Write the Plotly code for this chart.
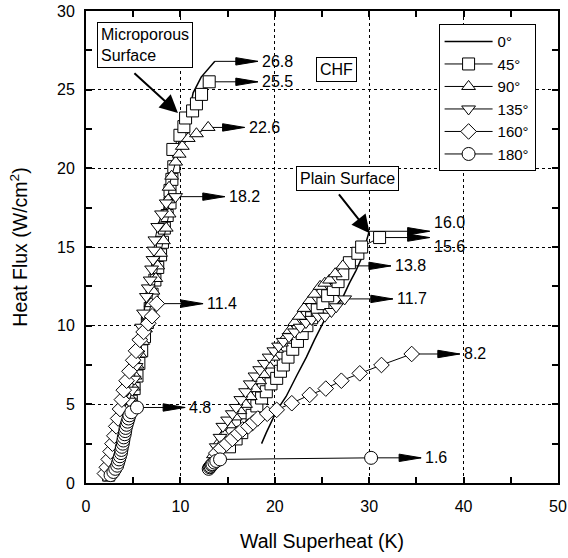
import plotly.graph_objects as go

# ---------------- data ----------------
angle_labels = ["0°", "45°", "90°", "135°", "160°", "180°"]
symbols = [None, "square", "triangle-up", "triangle-down", "diamond", "circle"]
marker_sizes = [0, 12, 12, 12, 12, 13]

# Microporous surface
mp_0_x = [2.3, 2.8, 3.3, 3.8, 4.3, 4.8, 5.3, 5.8, 6.3, 6.8, 7.3, 7.8, 8.3, 8.7, 9.0, 9.4, 9.9, 10.5, 11.0, 11.35, 12.2, 13.65]
mp_0_y = [0.5, 1.3, 2.2, 3.3, 4.4, 5.5, 6.8, 8.2, 9.6, 11.0, 12.6, 14.2, 15.8, 17.4, 19.0, 20.5, 21.8, 22.8, 23.8, 24.8, 25.8, 26.8]

mp_45_x = [2.4, 2.7, 3.0, 3.3, 3.6, 3.9, 4.2, 4.5, 4.8, 5.1, 5.4, 5.6, 5.9, 6.2, 6.5, 6.8, 7.0, 7.3, 7.6, 7.9, 8.1, 8.3, 8.6, 8.9, 8.9, 9.1, 9.3, 9.2, 9.95, 10.37, 10.55, 11.29, 11.7, 12.24, 13.05]
mp_45_y = [0.5, 0.9, 1.4, 2.0, 2.6, 3.2, 3.8, 4.5, 5.2, 6.0, 6.8, 7.6, 8.4, 9.3, 10.2, 11.1, 12.0, 12.9, 13.7, 14.5, 15.3, 16.2, 17.0, 17.8, 18.6, 19.3, 20.1, 21.2, 22.1, 22.65, 23.2, 23.65, 24.1, 24.7, 25.5]

mp_90_x = [2.3, 2.6, 2.9, 3.2, 3.5, 3.8, 4.1, 4.4, 4.7, 5.0, 5.2, 5.4, 5.7, 6.0, 6.3, 6.6, 6.9, 7.1, 7.4, 7.6, 7.9, 8.2, 8.5, 8.8, 8.7, 8.8, 9.07, 9.5, 9.87, 10.2, 10.83, 11.7, 12.94]
mp_90_y = [0.6, 1.0, 1.5, 2.0, 2.6, 3.3, 4.0, 4.7, 5.4, 6.1, 6.8, 7.5, 8.2, 9.0, 9.8, 10.6, 11.4, 12.2, 13.0, 13.8, 14.6, 15.4, 16.2, 17.1, 18.0, 18.8, 19.5, 20.4, 20.9, 21.4, 21.9, 22.2, 22.6]

mp_135_x = [2.2, 2.5, 2.8, 3.1, 3.4, 3.7, 4.0, 4.3, 4.6, 4.9, 5.1, 5.3, 5.5, 5.7, 5.9, 6.1, 6.4, 6.6, 6.8, 6.95, 7.1, 7.2, 7.3, 7.6, 8.0, 8.5, 9.49]
mp_135_y = [0.5, 0.9, 1.4, 1.9, 2.5, 3.1, 3.8, 4.5, 5.2, 5.9, 6.6, 7.4, 8.2, 9.0, 9.9, 10.8, 11.85, 12.4, 12.9, 13.6, 14.2, 14.8, 15.45, 16.3, 17.1, 17.8, 18.2]

mp_160_x = [2.0, 2.2, 2.4, 2.6, 2.8, 3.0, 3.2, 3.4, 3.6, 3.8, 4.0, 4.3, 4.6, 5.0, 5.3, 5.7, 6.1, 6.6, 7.0, 7.5]
mp_160_y = [0.6, 1.0, 1.5, 2.0, 2.5, 3.0, 3.6, 4.1, 4.7, 5.3, 5.9, 6.5, 7.1, 7.8, 8.4, 9.1, 9.6, 10.15, 10.6, 11.4]

mp_180_x = [2.6, 2.9, 3.1, 3.3, 3.4, 3.5, 3.6, 3.7, 3.75, 3.8, 3.9, 3.95, 4.0, 4.1, 4.15, 4.2, 4.3, 4.4, 4.5, 4.6, 4.8, 5.4]
mp_180_y = [0.5, 0.7, 0.9, 1.1, 1.3, 1.5, 1.7, 1.9, 2.1, 2.3, 2.5, 2.7, 2.9, 3.1, 3.3, 3.5, 3.7, 3.9, 4.1, 4.3, 4.5, 4.8]

# Plain surface
pl_0_x = [18.6, 19.1, 20.2, 21.2, 22.3, 23.35, 24.2, 25.3, 26.1, 27.2, 27.9, 28.6, 29.2, 29.6, 30.0]
pl_0_y = [2.5, 3.2, 4.6, 5.5, 6.8, 8.0, 9.1, 10.4, 11.0, 11.8, 12.7, 13.5, 14.3, 15.2, 16.0]

pl_45_x = [15.2, 15.9, 16.5, 17.0, 17.6, 18.1, 18.6, 19.1, 19.6, 20.2, 20.6, 20.9, 21.4, 21.9, 22.4, 22.9, 23.4, 23.9, 24.5, 25.1, 25.6, 26.2, 26.7, 27.2, 27.9, 28.8, 29.2, 31.1]
pl_45_y = [2.3, 2.8, 3.2, 3.7, 4.3, 4.9, 5.4, 5.8, 6.3, 6.65, 7.1, 7.5, 8.0, 8.5, 9.0, 9.5, 10.0, 10.5, 11.0, 11.4, 11.9, 12.3, 12.8, 13.3, 14.0, 14.6, 15.0, 15.6]

pl_90_x = [13.5, 14.0, 14.6, 15.2, 15.8, 16.3, 16.9, 17.4, 17.9, 18.4, 18.8, 19.3, 19.8, 20.2, 20.7, 21.2, 21.6, 22.1, 22.6, 23.1, 23.7, 24.2, 24.8, 25.3, 25.8, 26.4, 27.2]
pl_90_y = [1.8, 2.5, 3.1, 3.7, 4.2, 4.6, 5.0, 5.5, 6.0, 6.5, 6.9, 7.5, 8.0, 8.5, 8.9, 9.3, 9.7, 10.2, 10.6, 11.1, 11.6, 12.0, 12.5, 12.7, 12.9, 13.3, 13.8]

pl_135_x = [13.8, 14.2, 14.5, 15.0, 15.5, 15.9, 16.4, 16.9, 17.4, 17.9, 18.4, 18.9, 19.4, 19.9, 20.4, 20.9, 21.5, 22.1, 22.7, 23.3, 23.9, 24.6, 25.3, 26.0, 26.5, 27.4]
pl_135_y = [2.3, 2.9, 3.6, 4.0, 4.4, 4.8, 5.3, 5.8, 6.3, 6.8, 7.2, 7.6, 8.0, 8.4, 8.7, 9.0, 9.3, 9.6, 9.9, 10.2, 10.4, 10.6, 10.6, 10.9, 11.2, 11.7]

pl_160_x = [13.8, 14.3, 14.9, 15.5, 16.1, 16.6, 17.2, 17.7, 18.2, 19.2, 20.2, 21.8, 23.7, 25.4, 27.05, 29.0, 31.3, 34.5]
pl_160_y = [1.9, 2.2, 2.5, 2.8, 3.15, 3.4, 3.6, 3.85, 4.1, 4.4, 4.65, 5.07, 5.6, 6.0, 6.5, 6.97, 7.5, 8.2]

pl_180_x = [13.0, 13.1, 13.2, 13.3, 13.4, 13.6, 13.8, 14.2, 30.2]
pl_180_y = [0.9, 1.0, 1.05, 1.15, 1.2, 1.3, 1.4, 1.5, 1.6]

# CHF labels (values) and arrow tips (x)
chf_micro = [26.8, 25.5, 22.6, 18.2, 11.4, 4.8]
chf_micro_tip = [18.2, 18.2, 16.8, 14.7, 12.4, 10.5]
chf_plain = [16.0, 15.6, 13.8, 11.7, 8.2, 1.6]
chf_plain_tip = [36.4, 36.4, 32.3, 32.5, 39.6, 35.5]
chf_plain_label_shift = [9, -9, 0, 0, 0, 0]

x_ticks = [0, 10, 20, 30, 40, 50]
y_ticks = [0, 5, 10, 15, 20, 25, 30]

FONT = "Liberation Sans, Arial, sans-serif"

micro = [(mp_0_x, mp_0_y), (mp_45_x, mp_45_y), (mp_90_x, mp_90_y),
         (mp_135_x, mp_135_y), (mp_160_x, mp_160_y), (mp_180_x, mp_180_y)]
plain = [(pl_0_x, pl_0_y), (pl_45_x, pl_45_y), (pl_90_x, pl_90_y),
         (pl_135_x, pl_135_y), (pl_160_x, pl_160_y), (pl_180_x, pl_180_y)]

fig = go.Figure()

for group_idx, group in enumerate([micro, plain]):
    for i, (xs, ys) in enumerate(group):
        if symbols[i] is None:
            fig.add_trace(go.Scatter(
                x=xs, y=ys, mode="lines", name=angle_labels[i],
                line=dict(color="black", width=1.5),
                legendgroup=angle_labels[i], showlegend=(group_idx == 0)))
        else:
            fig.add_trace(go.Scatter(
                x=xs, y=ys, mode="lines+markers", name=angle_labels[i],
                line=dict(color="black", width=1),
                marker=dict(symbol=symbols[i], size=marker_sizes[i], color="white",
                            line=dict(color="black", width=1)),
                legendgroup=angle_labels[i], showlegend=(group_idx == 0)))

shapes = []
annotations = []


def add_chf_arrow(x_start, y, x_tip, label, yshift=0):
    shapes.append(dict(type="line", xref="x", yref="y", x0=x_start, y0=y, x1=x_tip, y1=y,
                       line=dict(color="black", width=1), layer="below"))
    shapes.append(dict(type="path", xref="x", yref="y", xsizemode="pixel", ysizemode="pixel",
                       xanchor=x_tip, yanchor=y, path="M -22,-3.7 L 0,0 L -22,3.7 Z",
                       fillcolor="black", line=dict(color="black", width=1)))
    annotations.append(dict(x=x_tip, y=y, xref="x", yref="y", text=label, showarrow=False,
                            xanchor="left", yanchor="middle", xshift=2, yshift=yshift,
                            font=dict(family=FONT, size=16, color="black")))


for i, (xs, ys) in enumerate(micro):
    add_chf_arrow(xs[-1], chf_micro[i], chf_micro_tip[i], f"{chf_micro[i]:.1f}")
for i, (xs, ys) in enumerate(plain):
    add_chf_arrow(xs[-1], chf_plain[i], chf_plain_tip[i], f"{chf_plain[i]:.1f}",
                  chf_plain_label_shift[i])

# Text boxes
box_font = dict(family=FONT, size=16, color="black")
annotations.append(dict(x=1.2, y=29.3, xref="x", yref="y", text="Microporous<br>Surface",
                        showarrow=False, xanchor="left", yanchor="top", align="left",
                        bordercolor="black", borderwidth=1, borderpad=3,
                        bgcolor="white", font=box_font))
annotations.append(dict(x=26.5, y=26.3, xref="x", yref="y", text="CHF",
                        showarrow=False, xanchor="center", yanchor="middle",
                        bordercolor="black", borderwidth=1, borderpad=3,
                        bgcolor="white", font=box_font))
annotations.append(dict(x=27.67, y=19.36, xref="x", yref="y", text="Plain Surface",
                        showarrow=False, xanchor="center", yanchor="middle",
                        bordercolor="black", borderwidth=1, borderpad=3,
                        bgcolor="white", font=box_font))
# pointer arrows
annotations.append(dict(x=9.74, y=23.52, ax=4.97, ay=26.13, xref="x", yref="y",
                        axref="x", ayref="y", text="", showarrow=True,
                        arrowhead=2, arrowsize=1.8, arrowwidth=2, arrowcolor="black"))
annotations.append(dict(x=30.05, y=15.87, ax=26.67, ay=18.44, xref="x", yref="y",
                        axref="x", ayref="y", text="", showarrow=True,
                        arrowhead=2, arrowsize=1.8, arrowwidth=2, arrowcolor="black"))

axis_common = dict(
    showline=True, linecolor="black", linewidth=2, mirror="allticks",
    ticks="inside", ticklen=6, tickwidth=1.5, tickcolor="black",
    showgrid=True, gridcolor="black", gridwidth=1.3, griddash="dot",
    zeroline=False,
    tickfont=dict(family=FONT, size=16, color="black"),
)

fig.update_layout(
    width=568, height=558,
    margin=dict(l=86, r=10, t=11, b=75),
    paper_bgcolor="white", plot_bgcolor="white",
    font=dict(family=FONT, size=16, color="black"),
    shapes=shapes, annotations=annotations,
    xaxis=dict(range=[0, 50], tickvals=x_ticks, ticklabelstandoff=8,
               minor=dict(dtick=5, ticks="inside", ticklen=6, tickwidth=1.5,
                          tickcolor="black", showgrid=False),
               title=dict(text="Wall Superheat (K)", font=dict(family=FONT, size=19.5), standoff=20),
               automargin=False,
               **axis_common),
    yaxis=dict(range=[0, 30], tickvals=y_ticks, ticklabelstandoff=6,
               minor=dict(dtick=2.5, ticks="inside", ticklen=6, tickwidth=1.5,
                          tickcolor="black", showgrid=False),
               title=dict(text="Heat Flux (W/cm<sup>2</sup>)", font=dict(family=FONT, size=19.5), standoff=24),
               automargin=False,
               **axis_common),
    legend=dict(x=0.747, y=0.972, xanchor="left", yanchor="top",
                bordercolor="black", borderwidth=1, bgcolor="white",
                font=dict(family=FONT, size=15, color="black"),
                itemwidth=48, tracegroupgap=0),
)

fig.write_html("out.html", config={"displayModeBar": False},
               post_script="document.body.style.margin='0';document.body.style.padding='0';")
